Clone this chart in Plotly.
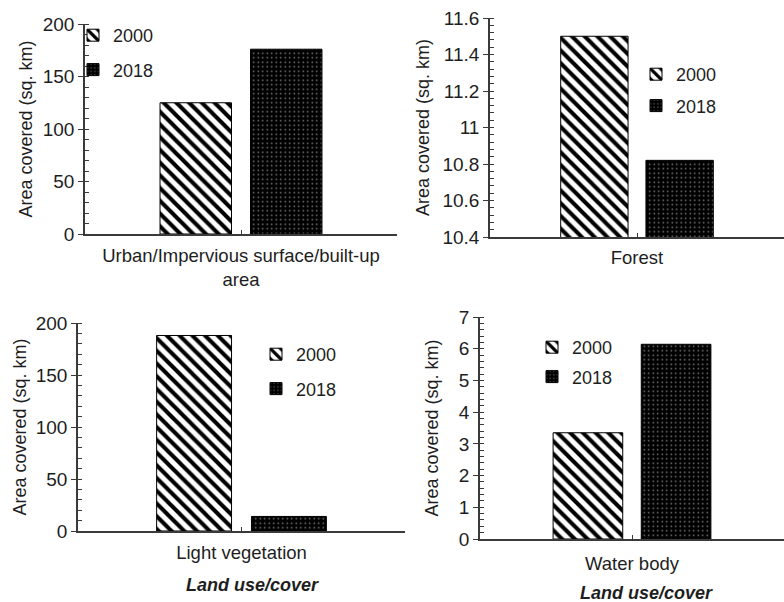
import plotly.graph_objects as go

# ---- data ----
categories = ["Urban/Impervious surface/built-up area", "Forest", "Light vegetation", "Water body"]
tick_labels = ["Urban/Impervious surface/built-up<br>area", "Forest", "Light vegetation", "Water body"]
years = ["2000", "2018"]
values_2000 = [125, 11.5, 188, 3.35]
values_2018 = [176, 10.82, 14, 6.14]
y_ranges = [[0, 200], [10.4, 11.6], [0, 200], [0, 7]]
y_dticks = [50, 0.2, 50, 1]
y_minor = [10, 0.04, 10, 0.2]
y_title = "Area covered (sq. km)"
x_title = "Land use/cover"

W, H = 784, 602
FONT = "Liberation Sans, Arial, sans-serif"
TXT = "#1e1e1e"
AX = "#3a3a3a"

# panel domains in pixels: (x0, x1, y_bottom_px, y_top_px)
panels = [
    (85, 397, 234, 24),
    (490, 784, 237, 18),
    (78, 405, 531, 323),
    (480, 784, 539, 317),
]
title_standoff = [5, 8, 4, 16]
xlabel_standoff = [4, 3, 4, 7]
# legend placement (text start x, first item centre y, item spacing) in pixels
legend_pos = [(113, 36, 34), (676, 75, 31), (296, 355, 34), (572, 348, 29)]

fig = go.Figure()

patterns = {
    "2000": dict(marker_color="white",
                 marker_pattern=dict(shape="\\", size=9, solidity=0.45, fgcolor="black", bgcolor="white", fillmode="replace")),
    "2018": dict(marker_color="black",
                 marker_pattern=dict(shape=".", size=4.5, solidity=0.1, fgcolor="white", bgcolor="black", fillmode="overlay")),
}

for i in range(4):
    sfx = "" if i == 0 else str(i + 1)
    leg = "legend" if i == 0 else f"legend{i + 1}"
    for yr, vals in zip(years, [values_2000, values_2018]):
        st = patterns[yr]
        fig.add_trace(go.Bar(
            x=[categories[i]], y=[vals[i]], name=yr,
            xaxis="x" + sfx, yaxis="y" + sfx,
            marker=dict(color=st["marker_color"], pattern=st["marker_pattern"],
                        line=dict(color="black", width=1)),
            legend=leg, legendgroup=f"{leg}_{yr}",
            showlegend=True,
        ))

layout = dict(
    width=W, height=H,
    margin=dict(l=0, r=0, t=0, b=0, autoexpand=False),
    paper_bgcolor="white", plot_bgcolor="white",
    font=dict(family=FONT, size=18, color=TXT),
    barmode="group", bargap=0.42, bargroupgap=0.21,
    annotations=[],
)

for i, (x0, x1, yb, yt) in enumerate(panels):
    sfx = "" if i == 0 else str(i + 1)
    layout["xaxis" + sfx] = dict(
        domain=[x0 / W, x1 / W], anchor="y" + sfx,
        type="category", automargin=False,
        tickmode="array", tickvals=[categories[i]], ticktext=[tick_labels[i]],
        showline=True, linecolor=AX, linewidth=1.5,
        ticks="inside", ticklen=4, tickcolor=AX,
        ticklabelstandoff=xlabel_standoff[i],
        showgrid=False, zeroline=False, range=[-0.5, 0.5],
        tickfont=dict(size=18.5),
    )
    layout["yaxis" + sfx] = dict(
        domain=[(H - yb) / H, (H - yt) / H], anchor="x" + sfx,
        automargin=False,
        range=y_ranges[i], dtick=y_dticks[i], tick0=0,
        showline=True, linecolor=AX, linewidth=1.5,
        ticks="outside", ticklen=5, tickcolor=AX,
        minor=dict(dtick=y_minor[i], ticks="inside", ticklen=4, tickcolor=AX, showgrid=False),
        showgrid=False, zeroline=False,
        title=dict(text=y_title, font=dict(size=18), standoff=title_standoff[i]),
        tickfont=dict(size=19),
    )
    lx, ly, gap = legend_pos[i]
    leg = "legend" if i == 0 else f"legend{i + 1}"
    layout[leg] = dict(
        x=(lx - 40) / W, y=1 - (ly - 19) / H, xanchor="left", yanchor="top",
        bgcolor="rgba(0,0,0,0)", font=dict(size=18, color=TXT),
        tracegroupgap=gap - 26, itemwidth=30,
    )

# x-axis titles for the bottom panels
for (cx, cy) in [(252, 585), (646, 593)]:
    layout["annotations"].append(dict(
        text=f"<b><i>{x_title}</i></b>", x=cx / W, y=1 - cy / H,
        xref="paper", yref="paper", showarrow=False,
        xanchor="center", yanchor="middle", font=dict(size=18, color=TXT),
    ))

fig.update_layout(**layout)
fig.write_html(
    "out.html",
    config={"displayModeBar": False},
    post_script="document.body.style.margin='0';document.body.style.padding='0';document.body.style.overflow='hidden';",
)
